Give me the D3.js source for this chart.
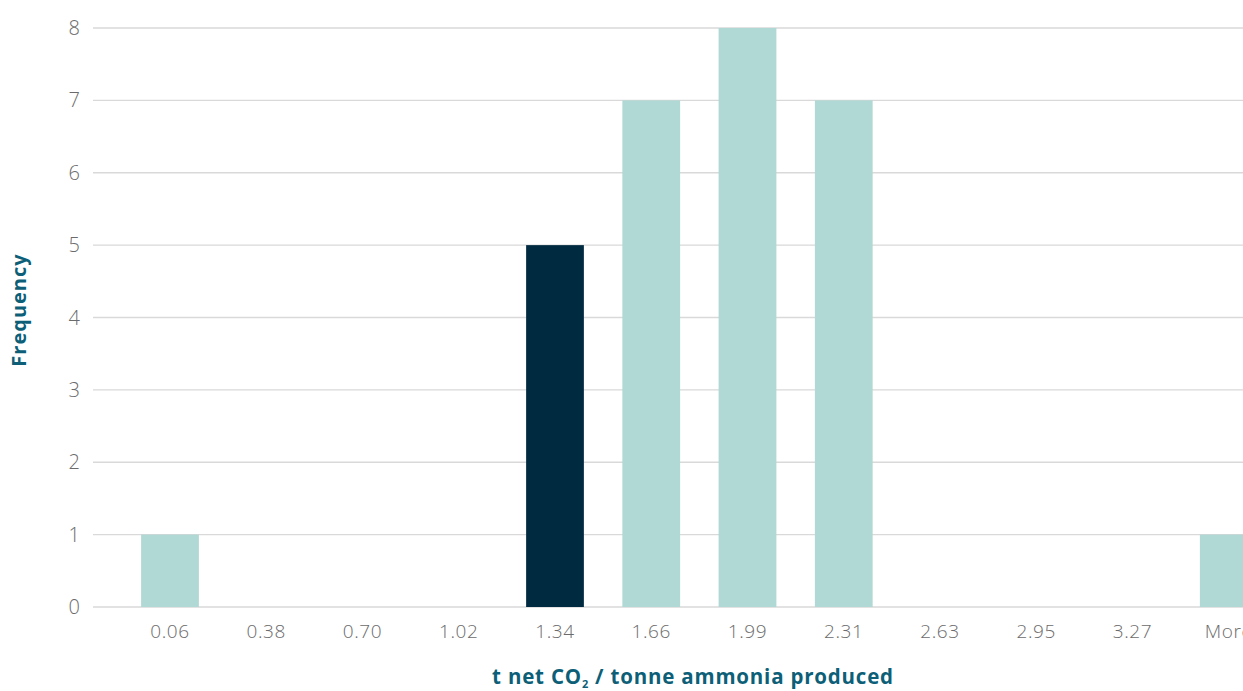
<!DOCTYPE html>
<html><head><meta charset="utf-8">
<script src="https://cdn.jsdelivr.net/npm/d3@7"></script>
<style>body{margin:0;background:#fff;overflow:hidden}</style>
</head><body><svg id="c" width="1243" height="691"></svg>
<script>
const categories = ["0.06","0.38","0.70","1.02","1.34","1.66","1.99","2.31","2.63","2.95","3.27","More"];
const frequency = [1,0,0,0,5,7,8,7,0,0,0,1];
const highlight = ["1.34"];
const yTicks = [0,1,2,3,4,5,6,7,8];

const svg = d3.select("#c");
const x = d3.scaleBand().domain(categories).range([121.875,1276.875]).paddingInner(0.4).paddingOuter(0.2);
const y = d3.scaleLinear().domain([0,8]).range([607,28]);

const font = "'Open Sans', sans-serif";
svg.append("g").selectAll("line").data(yTicks).join("line")
  .attr("x1",93).attr("x2",1243).attr("y1",d=>y(d)).attr("y2",d=>y(d))
  .attr("stroke","#d9d9d9").attr("stroke-width",1.3);
svg.append("g").selectAll("text").data(yTicks).join("text")
  .attr("x",80).attr("y",d=>y(d)).attr("dy","0.35em").attr("text-anchor","end")
  .attr("font-family",font).attr("font-weight",300).attr("font-size",20).attr("fill","#6b6b6b").text(d=>d);
svg.append("g").selectAll("rect").data(categories).join("rect")
  .attr("x",d=>x(d)).attr("width",x.bandwidth())
  .attr("y",(d,i)=>y(frequency[i])).attr("height",(d,i)=>y(0)-y(frequency[i]))
  .attr("fill",d=>highlight.includes(d)?"#002a40":"#b0d8d4");
svg.append("g").selectAll("text").data(categories).join("text")
  .attr("x",d=>x(d)+x.bandwidth()/2).attr("y",631).attr("dy","0.35em").attr("text-anchor","middle")
  .attr("font-family",font).attr("font-weight",300).attr("font-size",19).attr("letter-spacing",0.6)
  .attr("fill","#6b6b6b").text(d=>d);
const xt = svg.append("text").attr("x",693).attr("y",684).attr("text-anchor","middle")
  .attr("font-family",font).attr("font-weight",700).attr("font-size",20.5).attr("letter-spacing",0.8).attr("fill","#0d5f78");
xt.append("tspan").text("t net CO");
xt.append("tspan").attr("font-size",11).attr("dy",4).text("2");
xt.append("tspan").attr("dy",-4).text(" / tonne ammonia produced");
svg.append("text").attr("transform","translate(26,310) rotate(-90)").attr("text-anchor","middle")
  .attr("font-family",font).attr("font-weight",700).attr("font-size",20).attr("letter-spacing",1).attr("fill","#0d5f78").text("Frequency");
</script></body></html>
